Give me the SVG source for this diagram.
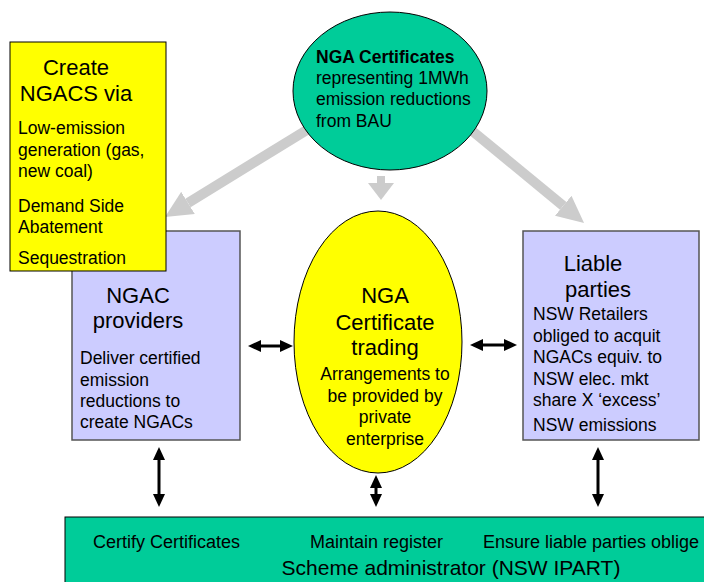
<svg xmlns="http://www.w3.org/2000/svg" width="704" height="582" viewBox="0 0 704 582">
<style>
text{font-family:"Liberation Sans",Arial,sans-serif;fill:#000}
.big{font-size:22px}
.sm{font-size:17.5px}
.mid{text-anchor:middle}
.lav{fill:#CCCCFF;stroke:#555;stroke-width:1.5}
.ga{stroke:#CCCCCC;fill:none}
.ba{stroke:#000;stroke-width:3;fill:none;marker-start:url(#bh);marker-end:url(#bh)}
</style>
<defs>
<marker id="bh" markerUnits="userSpaceOnUse" markerWidth="13" markerHeight="12" refX="0" refY="6" orient="auto-start-reverse" viewBox="0 0 13 12"><path d="M0,0 L13,6 L0,12 z" fill="#000"/></marker>
<marker id="gh" markerUnits="userSpaceOnUse" markerWidth="27" markerHeight="26" refX="0" refY="13" orient="auto" viewBox="0 0 27 26"><path d="M0,0 L27,13 L0,26 z" fill="#CCCCCC"/></marker>
<marker id="ghs" markerUnits="userSpaceOnUse" markerWidth="17" markerHeight="26" refX="0" refY="13" orient="auto" viewBox="0 0 17 26"><path d="M0,0 L17,13 L0,26 z" fill="#CCCCCC"/></marker>
</defs>
<rect width="704" height="582" fill="#fff"/>
<g id="connectors">
<line class="ga" x1="315" y1="125" x2="188" y2="202.9" stroke-width="10" marker-end="url(#gh)"/>
<line class="ga" x1="465" y1="125" x2="563.2" y2="205.8" stroke-width="10" marker-end="url(#gh)"/>
<line class="ga" x1="381" y1="176" x2="381" y2="183" stroke-width="8" marker-end="url(#ghs)"/>
<line class="ba" x1="261" y1="346" x2="280" y2="346"/>
<line class="ba" x1="483" y1="345" x2="504" y2="345"/>
<line class="ba" x1="159" y1="460" x2="159" y2="494"/>
<line class="ba" x1="598" y1="460" x2="598" y2="494"/>
<line class="ba" x1="376" y1="488" x2="376" y2="494"/>
</g>
<g id="providers">
<rect class="lav" x="72" y="231" width="168" height="209"/>
<text class="big mid" x="138" y="303">NGAC</text>
<text class="big mid" x="138" y="328">providers</text>
<text class="sm" x="80" y="364">Deliver certified</text>
<text class="sm" x="80" y="386">emission</text>
<text class="sm" x="80" y="407">reductions to</text>
<text class="sm" x="80" y="428">create NGACs</text>
</g>
<g id="create">
<rect x="10" y="42" width="156" height="229" fill="#FFFF00" stroke="#000" stroke-width="1"/>
<text class="big mid" x="76" y="75">Create</text>
<text class="big mid" x="76" y="101">NGACS via</text>
<text class="sm" x="18" y="134">Low-emission</text>
<text class="sm" x="18" y="156">generation (gas,</text>
<text class="sm" x="18" y="177">new coal)</text>
<text class="sm" x="18" y="212">Demand Side</text>
<text class="sm" x="18" y="233">Abatement</text>
<text class="sm" x="18" y="264">Sequestration</text>
</g>
<g id="certificates">
<ellipse cx="390" cy="91" rx="97" ry="79" fill="#00CC99" stroke="#000" stroke-width="1"/>
<text class="sm" x="316" y="63" font-weight="bold">NGA Certificates</text>
<text class="sm" x="316" y="84">representing 1MWh</text>
<text class="sm" x="316" y="105">emission reductions</text>
<text class="sm" x="316" y="127">from BAU</text>
</g>
<g id="trading">
<ellipse cx="378" cy="342" rx="84" ry="131" fill="#FFFF00" stroke="#000" stroke-width="1"/>
<text class="big mid" x="385" y="303">NGA</text>
<text class="big mid" x="385" y="330">Certificate</text>
<text class="big mid" x="385" y="355">trading</text>
<text class="sm mid" x="385" y="380">Arrangements to</text>
<text class="sm mid" x="385" y="402">be provided by</text>
<text class="sm mid" x="385" y="423">private</text>
<text class="sm mid" x="385" y="445">enterprise</text>
</g>
<g id="liable">
<rect class="lav" x="523" y="231" width="176" height="209"/>
<text class="big mid" x="593" y="271">Liable</text>
<text class="big mid" x="598" y="297">parties</text>
<text class="sm" x="533" y="320">NSW Retailers</text>
<text class="sm" x="533" y="342">obliged to acquit</text>
<text class="sm" x="533" y="363">NGACs equiv. to</text>
<text class="sm" x="533" y="385">NSW elec. mkt</text>
<text class="sm" x="533" y="406">share X ‘excess’</text>
<text class="sm" x="533" y="431">NSW emissions</text>
</g>
<g id="administrator">
<rect x="65" y="517" width="660" height="80" fill="#00CC99" stroke="#000" stroke-width="1"/>
<text x="93" y="548" font-size="18">Certify Certificates</text>
<text x="310" y="548" font-size="18">Maintain register</text>
<text x="483" y="548" font-size="18">Ensure liable parties oblige</text>
<text x="451" y="575" font-size="21" text-anchor="middle">Scheme administrator (NSW IPART)</text>
</g>
</svg>
